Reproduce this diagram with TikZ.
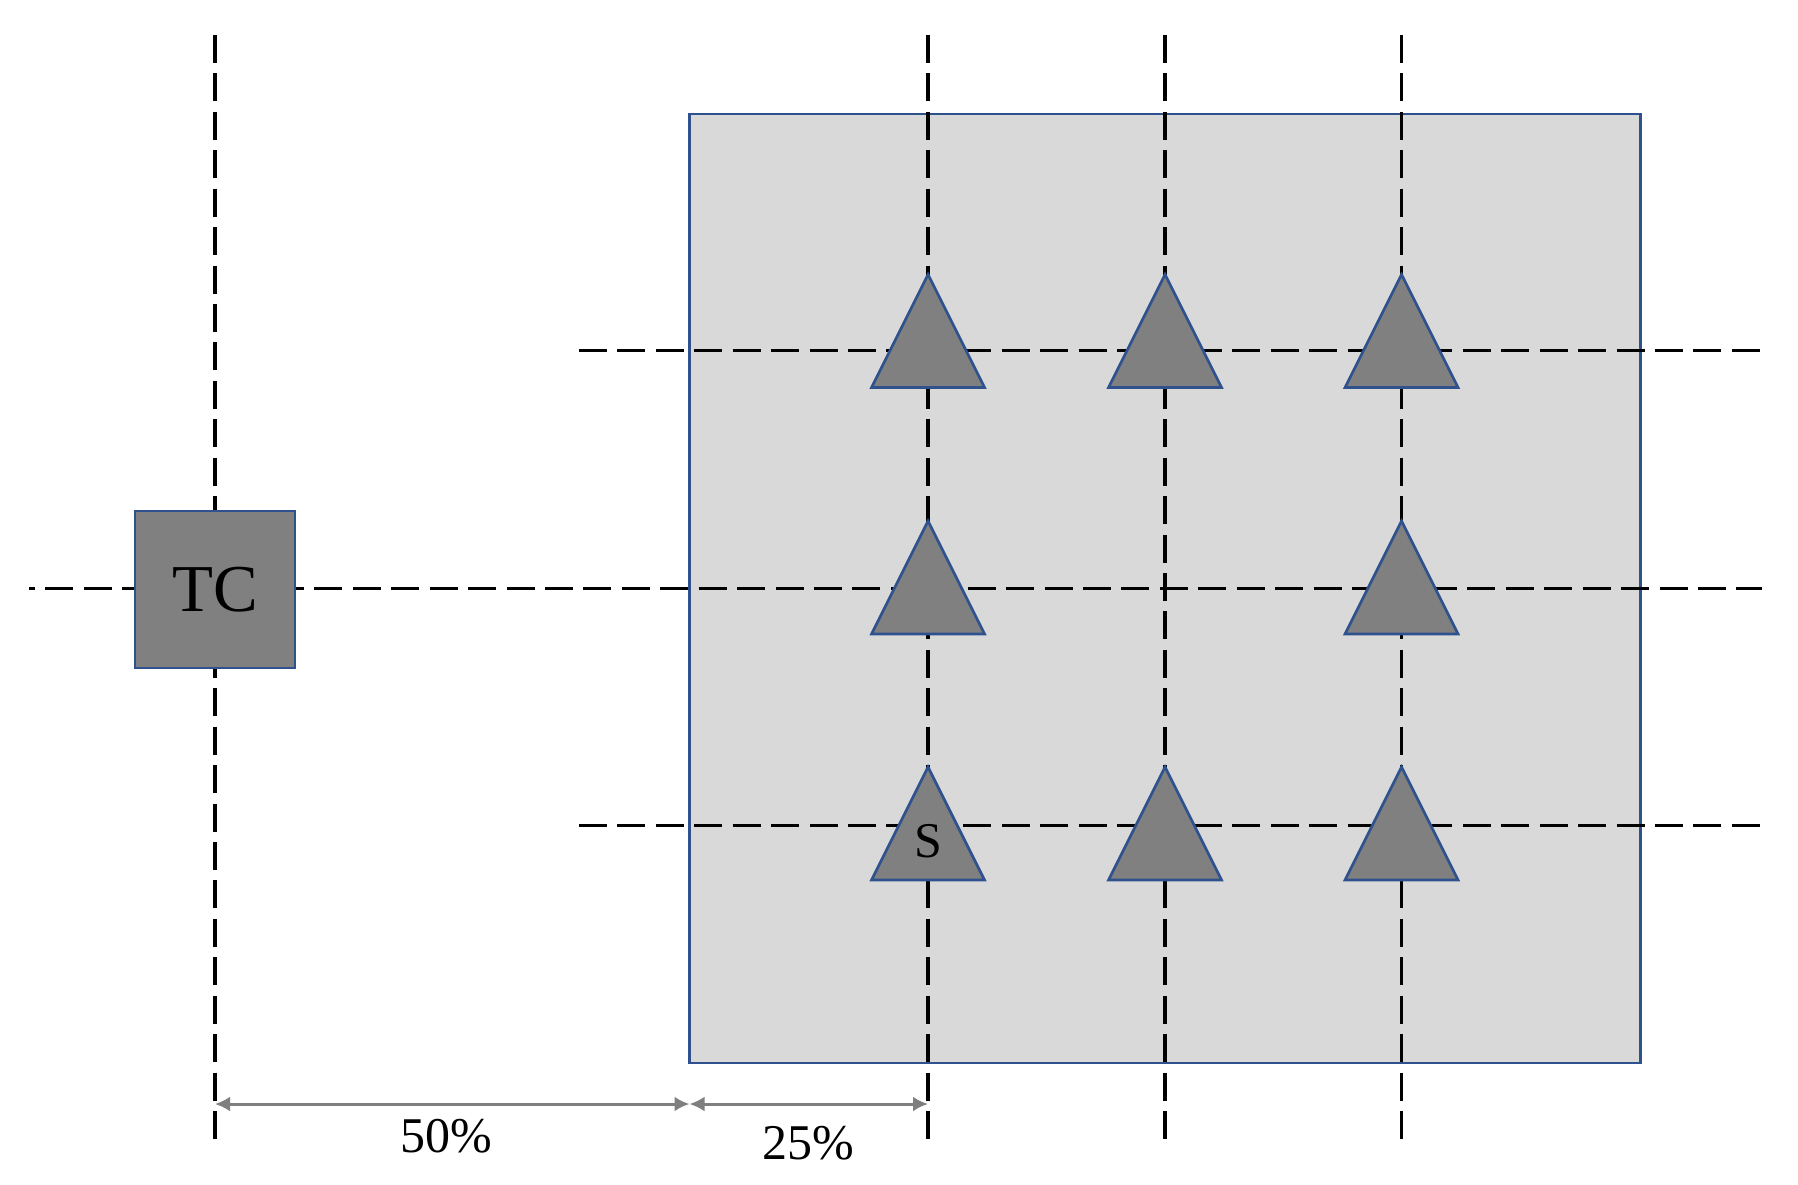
\documentclass[tikz,border=0pt]{standalone}
\usepackage{fontspec}
\setmainfont{Liberation Serif}
\usetikzlibrary{arrows.meta}
\definecolor{edgeblue}{HTML}{2F528F}
\definecolor{panelgray}{HTML}{D9D9D9}
\definecolor{shapegray}{HTML}{808080}
\definecolor{arrowgray}{HTML}{7F7F7F}
\tikzset{
  gridline/.style={line width=3.5pt, dash pattern=on 28pt off 10.43pt},
  panel/.style={draw=edgeblue, fill=panelgray, line width=2.5pt},
  tcbox/.style={draw=edgeblue, fill=shapegray, line width=2.7pt, minimum width=160pt, minimum height=157pt, inner sep=0pt, font=\fontsize{67}{70}\selectfont},
  tristyle/.style={draw=edgeblue, fill=shapegray, line width=2.7pt, line join=miter},
  tri/.pic={\path[tristyle] (-56.5,56.5) -- (0,-56.5) -- (56.5,56.5) -- cycle; \coordinate (-c) at (0,0);},
  dimarrow/.style={draw=arrowgray, line width=3pt, {Latex[length=15pt,width=15pt]}-{Latex[length=15pt,width=15pt]}},
  dimlabel/.style={font=\fontsize{50}{55}\selectfont, inner sep=0pt},
}
\begin{document}
\begin{tikzpicture}[x=1pt,y=-1pt]
\useasboundingbox[fill=white] (0,0) rectangle (1798,1185);
% panel
\path[panel] (689.5,114) rectangle (1640.5,1063);
% vertical grid lines
\foreach \x/\n in {215/v0,928/v1,1165/v2,1401.5/v3}{
  \coordinate (\n top) at (\x,35);
  \coordinate (\n bot) at (\x,1139);
  \draw[gridline] (\n top) -- (\n bot);
}
% horizontal grid lines
\coordinate (h1l) at (579,350.5); \coordinate (h1r) at (1760,350.5);
\coordinate (h2l) at (29,588.5);  \coordinate (h2r) at (1762,588.5);
\coordinate (h3l) at (579,825.5); \coordinate (h3r) at (1760,825.5);
\draw[gridline] (h1l) -- (h1r);
\draw[gridline, dash phase=22pt] (h2l) -- (h2r);
\draw[gridline] (h3l) -- (h3r);
% TC box
\node[tcbox] (tc) at (215,589.5) {TC};
% triangles
\pic (t11) at (928,331) {tri};
\pic (t12) at (1165,331) {tri};
\pic (t13) at (1401.5,331) {tri};
\pic (t21) at (928,577.5) {tri};
\pic (t23) at (1401.5,577.5) {tri};
\pic (t31) at (928,823.5) {tri};
\pic (t32) at (1165,823.5) {tri};
\pic (t33) at (1401.5,823.5) {tri};
\node[font=\fontsize{50}{55}\selectfont, inner sep=0pt] (s) at (928,841) {S};
% dimension arrows
\coordinate (d0) at (215,1104);
\coordinate (d1) at (689.5,1104);
\coordinate (d2) at (928,1104);
\draw[dimarrow] (d0) -- (d1);
\draw[dimarrow] (d1) -- (d2);
\node[dimlabel] (l50) at (446,1136) {50\%};
\node[dimlabel] (l25) at (808,1143) {25\%};
\end{tikzpicture}
\end{document}
